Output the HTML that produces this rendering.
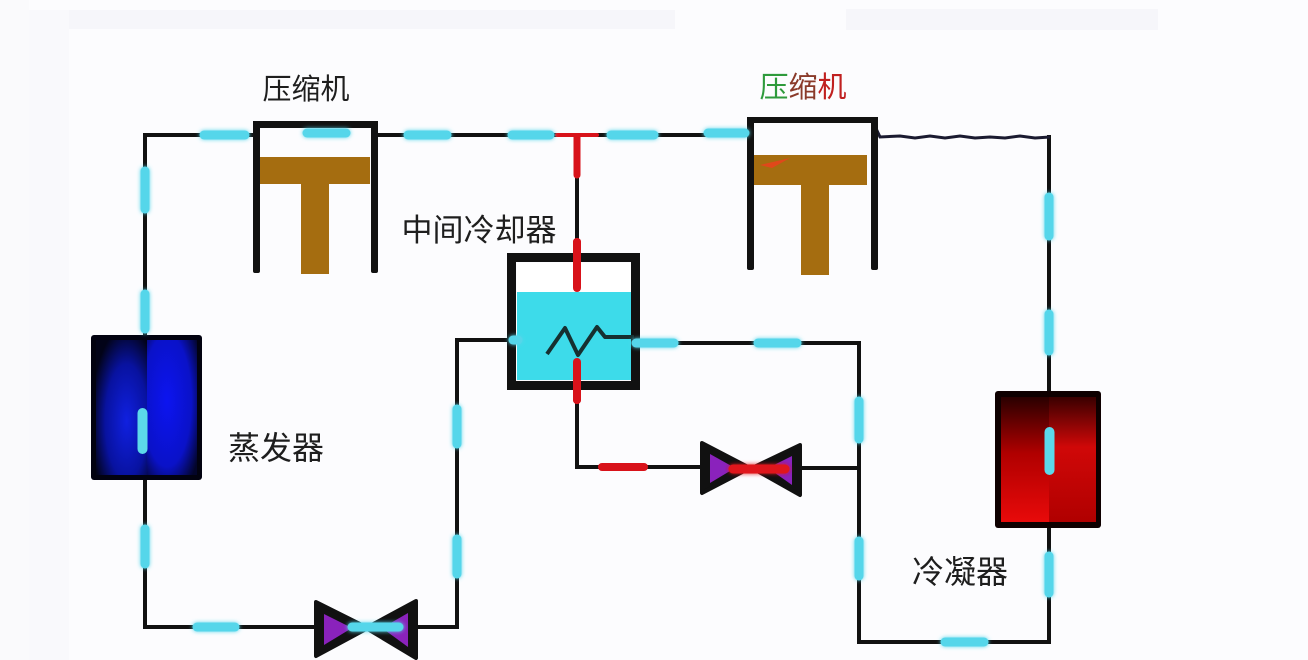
<!DOCTYPE html>
<html><head><meta charset="utf-8"><style>
html,body{margin:0;padding:0;background:#fcfcfe;}
svg{display:block;}
text{font-family:"Liberation Sans","Noto Sans CJK SC",sans-serif;fill:#1e1e1e;}
</style></head><body>
<svg width="1308" height="660" viewBox="0 0 1308 660" xmlns="http://www.w3.org/2000/svg">
<defs>
<filter id="glow" filterUnits="userSpaceOnUse" x="0" y="0" width="1308" height="660">
<feGaussianBlur in="SourceGraphic" stdDeviation="2.2" result="b"/>
<feMerge><feMergeNode in="b"/><feMergeNode in="SourceGraphic"/></feMerge>
</filter>
<radialGradient id="evL" cx="0.6" cy="0.6" r="0.7">
<stop offset="0" stop-color="#1020e0"/><stop offset="0.6" stop-color="#0812a0"/><stop offset="1" stop-color="#020318"/>
</radialGradient>
<radialGradient id="evR" cx="0.4" cy="0.45" r="0.75">
<stop offset="0" stop-color="#0c14f0"/><stop offset="0.65" stop-color="#0a12c8"/><stop offset="1" stop-color="#03052a"/>
</radialGradient>
<linearGradient id="cdL" x1="0" y1="0" x2="0" y2="1">
<stop offset="0" stop-color="#2a0000"/><stop offset="0.45" stop-color="#b00000"/><stop offset="1" stop-color="#e80a0a"/>
</linearGradient>
<linearGradient id="cdR" x1="0" y1="0" x2="0" y2="1">
<stop offset="0" stop-color="#3a0000"/><stop offset="0.4" stop-color="#d00808"/><stop offset="1" stop-color="#b00000"/>
</linearGradient>
</defs>

<!-- faint background panels -->
<rect x="29" y="10" width="646" height="19" fill="#f6f6fa"/>
<rect x="846" y="9" width="312" height="21" fill="#f6f6fa"/>
<rect x="29" y="10" width="40" height="650" fill="#f9f9fc"/>
<rect x="0" y="0" width="29" height="660" fill="#fafafc"/>

<!-- black pipe lines -->
<g stroke="#111" stroke-width="4" fill="none" stroke-linejoin="miter" stroke-linecap="square">
<path d="M145,335 V135 H253"/>
<path d="M378,135 H750"/>
<path d="M577,135 V253"/>
<path d="M145,480 V627 H318"/>
<path d="M415,627 H457 V340 H507"/>
<path d="M577,390 V467 H702"/>
<path d="M800,468 H859"/>
<path d="M640,343 H859 V642 H1049 V528"/>
<path d="M1049,391 V137"/>
</g>
<!-- wavy line from compressor 2 -->
<polyline points="873,122 880,137 900,136 915,138 930,136 945,138 960,136 975,138 990,137 1005,138 1020,136 1035,138 1050,137" stroke="#1a1a30" stroke-width="3" fill="none"/>

<!-- red overlays -->
<g stroke="#d8121a" stroke-linecap="round" fill="none">
<path d="M557,135 H597" stroke-width="4"/>
<path d="M577,137 V175" stroke-width="7"/>
<path d="M577,242 V288" stroke-width="8"/>
<path d="M577,362 V400" stroke-width="8"/>
<path d="M602,467 H644" stroke-width="8"/>
</g>

<!-- Compressor 1 -->
<g fill="#111">
<rect x="253" y="121" width="125" height="7"/>
<rect x="253" y="121" width="7" height="152" rx="2"/>
<rect x="371" y="121" width="7" height="152" rx="2"/>
</g>
<rect x="260" y="157" width="110" height="27" fill="#a56d10"/>
<rect x="301" y="184" width="28" height="90" fill="#a56d10"/>

<!-- Compressor 2 -->
<g fill="#111">
<rect x="747" y="117" width="131" height="6"/>
<rect x="747" y="117" width="7" height="153" rx="2"/>
<rect x="871" y="117" width="7" height="153" rx="2"/>
</g>
<rect x="754" y="155" width="113" height="30" fill="#a56d10"/>
<rect x="801" y="185" width="28" height="90" fill="#a56d10"/>
<path d="M760,165 L790,158 L772,168 Z" fill="#e0481a"/>

<!-- Intercooler -->
<rect x="517" y="263" width="114" height="117" fill="#fff"/>
<rect x="517" y="292" width="114" height="88" fill="#3ddbea"/>
<rect x="511.5" y="257.5" width="124" height="128" fill="none" stroke="#111" stroke-width="9"/>
<polyline points="547,354 565,328 578,355 597,327 605,337 634,337" fill="none" stroke="#163030" stroke-width="4" stroke-linejoin="round"/>
<path d="M577,362 V400" stroke="#d8121a" stroke-width="8" stroke-linecap="round"/>
<path d="M577,242 V288" stroke="#d8121a" stroke-width="8" stroke-linecap="round"/>

<!-- Evaporator -->
<rect x="91" y="335" width="111" height="145" rx="3" fill="#020210"/>
<rect x="96" y="340" width="51" height="135" fill="url(#evL)"/>
<rect x="147" y="340" width="50" height="135" fill="url(#evR)"/>

<!-- Condenser -->
<rect x="995" y="391" width="106" height="137" rx="3" fill="#0e0000"/>
<rect x="1001" y="397" width="48" height="125" fill="url(#cdL)"/>
<rect x="1049" y="397" width="47" height="125" fill="url(#cdR)"/>

<!-- Valve 1 -->
<polygon points="316,602 368,628 316,656" fill="#111" stroke="#111" stroke-width="4" stroke-linejoin="round"/>
<polygon points="416,601 366,628 416,658" fill="#111" stroke="#111" stroke-width="4" stroke-linejoin="round"/>
<polygon points="324,614 352,628 324,645" fill="#8a22bc"/>
<polygon points="408,613 382,628 408,647" fill="#8a22bc"/>

<!-- Valve 2 -->
<polygon points="702,443 750,468 702,493" fill="#111" stroke="#111" stroke-width="4" stroke-linejoin="round"/>
<polygon points="800,445 752,468 800,495" fill="#111" stroke="#111" stroke-width="4" stroke-linejoin="round"/>
<polygon points="710,454 735,468 710,483" fill="#8a22bc"/>
<polygon points="792,456 768,468 792,485" fill="#8a22bc"/>
<g filter="url(#glow)">
<path d="M733,469 H785" stroke="#e0141a" stroke-width="9" stroke-linecap="round"/>
</g>

<!-- cyan dashes -->
<g stroke="#55d6ea" stroke-width="9" stroke-linecap="round" fill="none" filter="url(#glow)">
<path d="M204,135 H245"/>
<path d="M307,133 H346"/>
<path d="M408,135 H447"/>
<path d="M512,135 H550"/>
<path d="M611,135 H654"/>
<path d="M708,133 H745"/>
<path d="M145,171 V209"/>
<path d="M145,294 V329"/>
<path d="M145,529 V564"/>
<path d="M197,627 H235"/>
<path d="M352,627 H399"/>
<path d="M457,409 V444"/>
<path d="M457,539 V574"/>
<path d="M636,343 H674"/>
<path d="M758,343 H797"/>
<path d="M859,401 V439"/>
<path d="M859,541 V576"/>
<path d="M945,642 H984"/>
<path d="M1049,197 V236"/>
<path d="M1049,314 V351"/>
<path d="M1049,556 V593"/>
<path d="M513,340 H518"/>
</g>
<g stroke="#5cd8ea" stroke-width="10" stroke-linecap="round" fill="none">
<path d="M142.5,413 V449"/>
<path d="M1049.5,432 V470"/>
</g>

<!-- labels -->
<text x="306" y="99" font-size="29" text-anchor="middle">压缩机</text>
<text x="803" y="97" font-size="29" text-anchor="middle"><tspan fill="#2e9a3c">压</tspan><tspan fill="#8a3a2a">缩</tspan><tspan fill="#c02020">机</tspan></text>
<text x="479" y="241" font-size="31" text-anchor="middle">中间冷却器</text>
<text x="276" y="459" font-size="32" text-anchor="middle">蒸发器</text>
<text x="960" y="583" font-size="32" text-anchor="middle">冷凝器</text>
</svg>
</body></html>
